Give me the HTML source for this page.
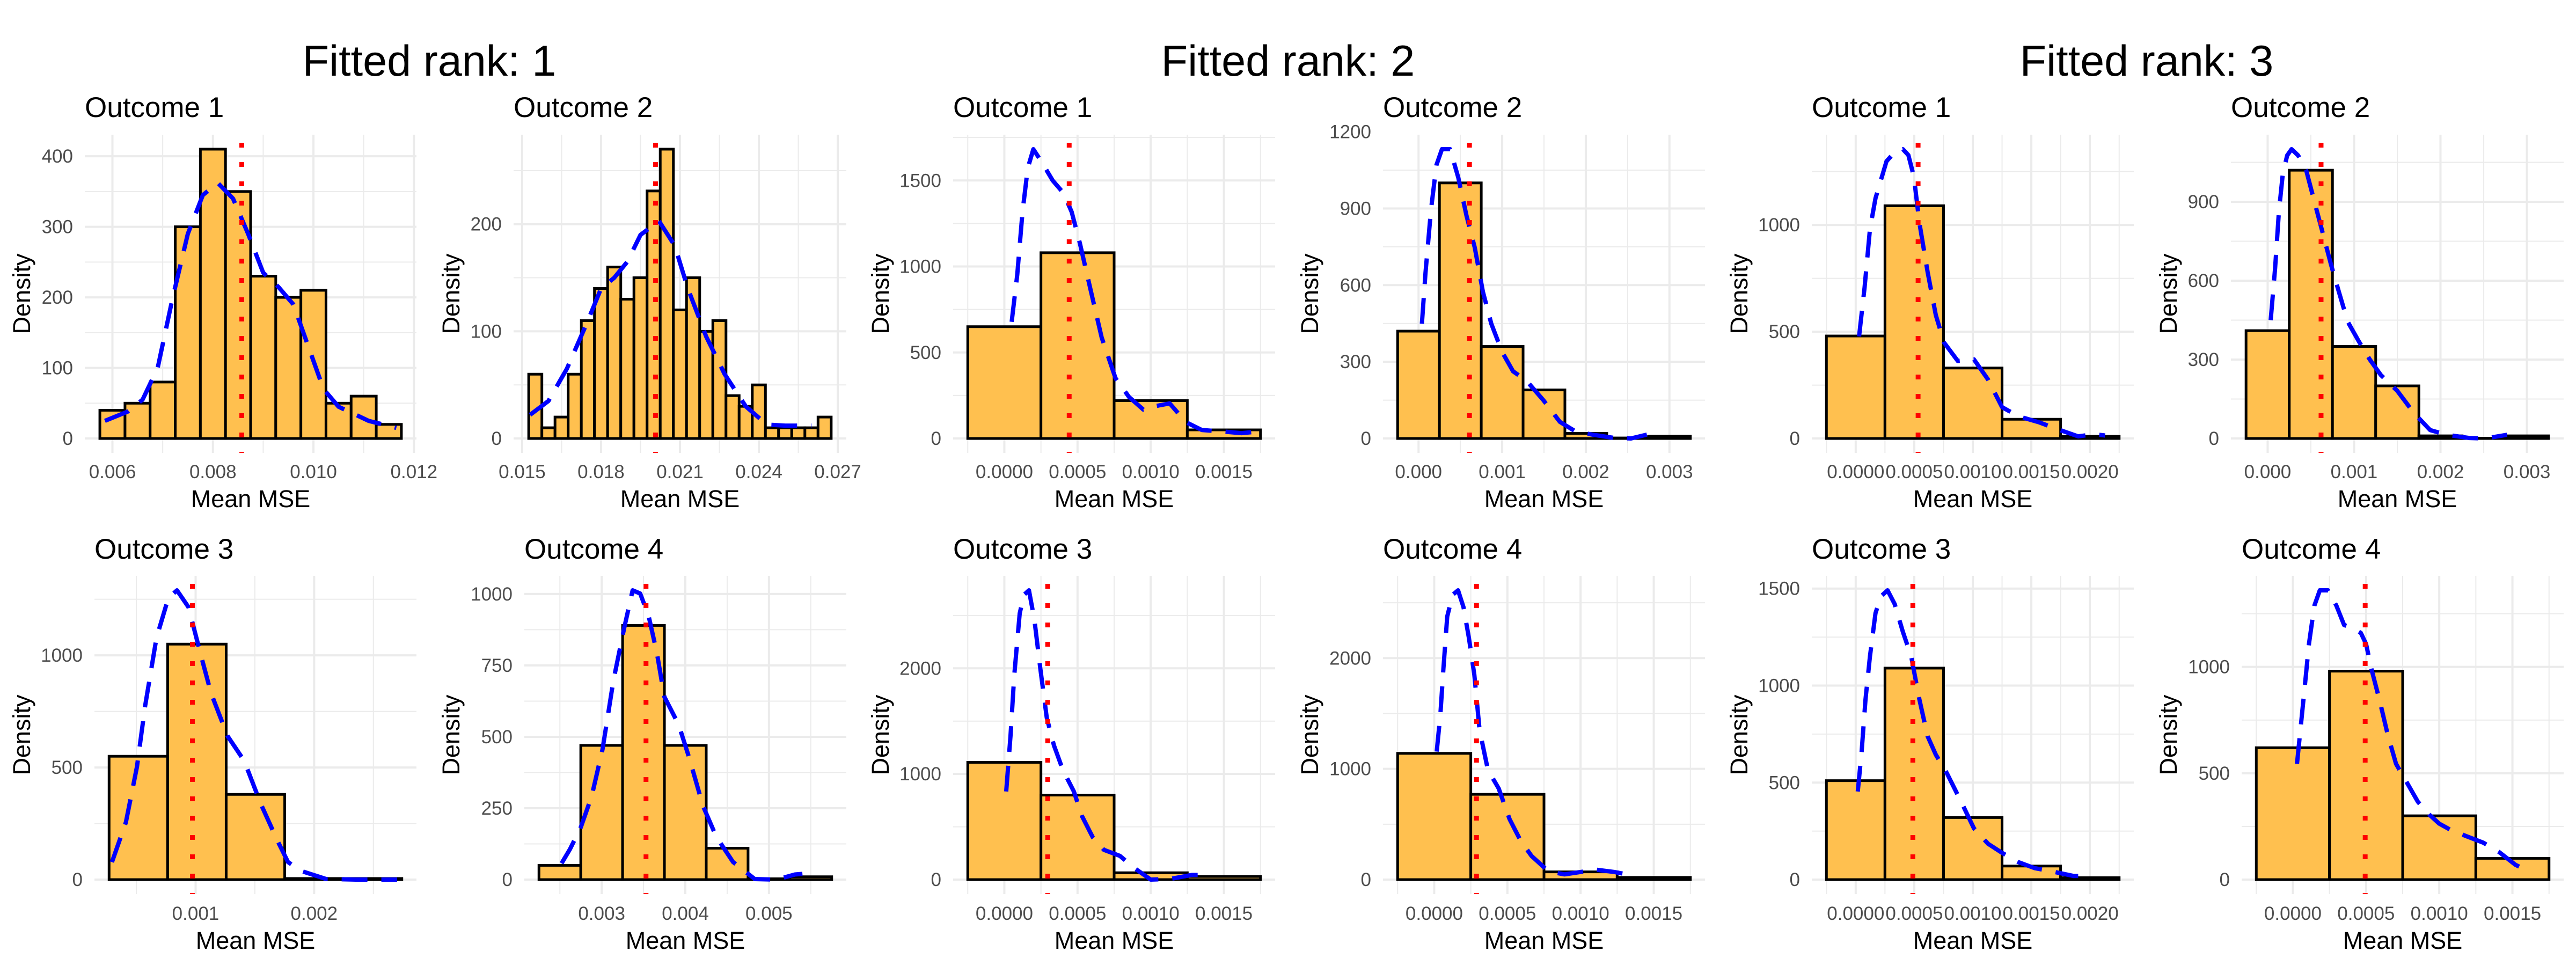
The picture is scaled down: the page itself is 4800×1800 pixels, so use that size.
<!DOCTYPE html>
<html><head><meta charset="utf-8">
<style>
html,body{margin:0;padding:0;background:#fff;}
svg{display:block;font-family:"Liberation Sans",Arial,sans-serif;}
</style></head>
<body>
<svg id="chart" width="4800" height="1800" viewBox="0 0 4800 1800" xmlns="http://www.w3.org/2000/svg">
<rect x="0" y="0" width="4800" height="1800" fill="#ffffff"/>
<text x="800" y="141" font-size="81" text-anchor="middle" fill="#000">Fitted rank: 1</text>
<text x="2400" y="141" font-size="81" text-anchor="middle" fill="#000">Fitted rank: 2</text>
<text x="4000" y="141" font-size="81" text-anchor="middle" fill="#000">Fitted rank: 3</text>
</svg>
<script>
// ---------- DATA ----------
const r1o1BinStart = 0.00575, r1o1BinWidth = 0.0005;
const r1o1Heights = [40,50,80,300,410,350,230,200,210,50,60,20];
const r1o1DensX = [0.00585,0.0063,0.0066,0.0069,0.0072,0.0075,0.0078,0.0081,0.0084,0.0087,0.009,0.0093,0.0096,0.0099,0.0102,0.0105,0.0108,0.0111,0.01165];
const r1o1DensY = [25,38,55,100,200,290,345,362,340,290,235,215,190,130,70,45,35,25,15];
const r1o1Vline = 0.008574;
const r1o1XTicks = [0.006,0.008,0.010,0.012];
const r1o1XLabels = ["0.006","0.008","0.010","0.012"];
const r1o1YTicks = [0,100,200,300,400];

const r1o2BinStart = 0.01525, r1o2BinWidth = 0.0005;
const r1o2Heights = [60,10,20,60,110,140,160,130,150,231,270,120,150,100,110,40,30,50,10,10,10,10,20];
const r1o2DensX = [0.0153,0.016,0.0167,0.0175,0.018,0.0185,0.019,0.0195,0.0202,0.0208,0.0213,0.022,0.0227,0.0235,0.0243,0.025,0.026];
const r1o2DensY = [22,35,65,110,140,150,165,190,203,180,140,95,60,30,13,12,12];
const r1o2Vline = 0.02007;
const r1o2XTicks = [0.015,0.018,0.021,0.024,0.027];
const r1o2XLabels = ["0.015","0.018","0.021","0.024","0.027"];
const r1o2YTicks = [0,100,200];

const r1o3BinStart = 0.00027, r1o3BinWidth = 0.000494;
const r1o3Heights = [550,1050,380,5,5];
const r1o3DensX = [0.000294,0.000412,0.000505,0.000575,0.00067,0.00077,0.000843,0.00094,0.00104,0.00113,0.00127,0.00141,0.00155,0.00169,0.00178,0.0019,0.0021,0.00235,0.0027];
const r1o3DensY = [78,256,503,777,1078,1256,1290,1215,1010,832,640,530,338,174,78,37,3,0,0];
const r1o3Vline = 0.000973;
const r1o3XTicks = [0.001,0.002];
const r1o3XLabels = ["0.001","0.002"];
const r1o3YTicks = [0,500,1000];

const r1o4BinStart = 0.00225, r1o4BinWidth = 0.0005;
const r1o4Heights = [50,470,890,470,110,3,10];
const r1o4DensX = [0.00252,0.00262,0.00275,0.00288,0.00301,0.00314,0.00327,0.00337,0.00346,0.00356,0.00366,0.00375,0.00392,0.00405,0.00421,0.00437,0.00457,0.00483,0.00509,0.00531,0.0054];
const r1o4DensY = [57,106,183,292,456,697,882,1013,1002,925,794,640,543,423,259,150,62,2,0,18,20];
const r1o4Vline = 0.00353;
const r1o4XTicks = [0.003,0.004,0.005];
const r1o4XLabels = ["0.003","0.004","0.005"];
const r1o4YTicks = [0,250,500,750,1000];

const r2o1BinStart = -0.00025, r2o1BinWidth = 0.0005;
const r2o1Heights = [650,1080,220,50];
const r2o1DensX = [0.00005,0.000088,0.000124,0.00016,0.000198,0.000254,0.00033,0.000404,0.00046,0.000516,0.00059,0.000665,0.00076,0.000852,0.00095,0.00102,0.00113,0.00124,0.00135,0.0015,0.00162,0.00173];
const r2o1DensY = [678,952,1317,1572,1682,1609,1500,1427,1317,1135,861,587,350,241,168,186,204,95,49,40,31,40];
const r2o1Vline = 0.000443;
const r2o1XTicks = [0,0.0005,0.001,0.0015];
const r2o1XLabels = ["0.0000","0.0005","0.0010","0.0015"];
const r2o1YTicks = [0,500,1000,1500];

const r2o2BinStart = -0.00025, r2o2BinWidth = 0.0005;
const r2o2Heights = [420,1000,360,190,20,2,9];
const r2o2DensX = [0.00004,0.000083,0.000149,0.000214,0.00028,0.000378,0.000476,0.000574,0.000672,0.00077,0.00087,0.001,0.00113,0.00129,0.00149,0.00169,0.00188,0.00208,0.00234,0.00254,0.00273];
const r2o2DensY = [449,648,896,1070,1132,1132,1020,871,747,574,449,338,263,226,151,65,27,15,2,0,15];
const r2o2Vline = 0.000609;
const r2o2XTicks = [0,0.001,0.002,0.003];
const r2o2XLabels = ["0.000","0.001","0.002","0.003"];
const r2o2YTicks = [0,300,600,900,1200];

const r2o3BinStart = -0.00025, r2o3BinWidth = 0.0005;
const r2o3Heights = [1110,800,65,30];
const r2o3DensX = [0.0000128,0.000042,0.000068,0.000105,0.000134,0.000168,0.000205,0.000246,0.00029,0.000339,0.0004,0.000475,0.00053,0.000605,0.00068,0.00079,0.00089,0.001,0.00113,0.00128,0.00137];
const r2o3DensY = [834,1358,1939,2520,2695,2738,2462,1997,1532,1270,1038,834,602,398,282,224,108,0,6,44,44];
const r2o3Vline = 0.000296;
const r2o3XTicks = [0,0.0005,0.001,0.0015];
const r2o3XLabels = ["0.0000","0.0005","0.0010","0.0015"];
const r2o3YTicks = [0,1000,2000];

const r2o4BinStart = -0.00025, r2o4BinWidth = 0.0005;
const r2o4Heights = [1140,770,70,20];
const r2o4DensX = [0.000017,0.000042,0.000063,0.000089,0.000126,0.000163,0.0002,0.000237,0.000274,0.00031,0.000367,0.00044,0.000515,0.00059,0.000665,0.00078,0.00089,0.001,0.00111,0.00123,0.00134];
const r2o4DensY = [1156,1489,1905,2376,2571,2612,2460,2182,1850,1350,990,824,546,352,214,75,47,69,89,69,42];
const r2o4Vline = 0.000289;
const r2o4XTicks = [0,0.0005,0.001,0.0015];
const r2o4XLabels = ["0.0000","0.0005","0.0010","0.0015"];
const r2o4YTicks = [0,1000,2000];

const r3o1BinStart = -0.00025, r3o1BinWidth = 0.0005;
const r3o1Heights = [480,1090,330,90,10];
const r3o1DensX = [0.000029,0.000076,0.000122,0.000169,0.000216,0.000263,0.000333,0.000403,0.00045,0.000497,0.000544,0.000614,0.000684,0.000755,0.000872,0.00101,0.00113,0.00125,0.00139,0.00157,0.00171,0.0019,0.00204,0.00213];
const r3o1DensY = [478,708,981,1125,1211,1298,1341,1355,1327,1226,1010,780,578,449,363,370,276,147,104,75,46,10,20,14];
const r3o1Vline = 0.000533;
const r3o1XTicks = [0,0.0005,0.001,0.0015,0.002];
const r3o1XLabels = ["0.0000","0.0005","0.0010","0.0015","0.0020"];
const r3o1YTicks = [0,500,1000];

const r3o2BinStart = -0.00025, r3o2BinWidth = 0.0005;
const r3o2Heights = [410,1020,350,200,10,1,10];
const r3o2DensX = [0.000035,0.000086,0.00013,0.000175,0.000226,0.000277,0.000353,0.000448,0.000544,0.00064,0.000735,0.00083,0.000926,0.00105,0.00118,0.00131,0.0015,0.00169,0.00188,0.00207,0.00233,0.00252,0.00277];
const r3o2DensY = [450,647,862,1005,1076,1100,1076,1017,897,778,659,551,444,372,301,241,181,98,32,14,2,0,14];
const r3o2Vline = 0.000618;
const r3o2XTicks = [0,0.001,0.002,0.003];
const r3o2XLabels = ["0.000","0.001","0.002","0.003"];
const r3o2YTicks = [0,300,600,900];

const r3o3BinStart = -0.00025, r3o3BinWidth = 0.0005;
const r3o3Heights = [510,1090,320,70,10];
const r3o3DensX = [0.000018,0.000051,0.000084,0.000122,0.000169,0.000216,0.000272,0.000333,0.000403,0.000474,0.000544,0.000614,0.000684,0.000778,0.000896,0.00101,0.00113,0.00125,0.00139,0.00153,0.00167,0.00186,0.0019];
const r3o3DensY = [454,660,929,1151,1373,1460,1491,1420,1277,1151,929,739,644,549,407,264,185,138,90,59,43,19,19];
const r3o3Vline = 0.000488;
const r3o3XTicks = [0,0.0005,0.001,0.0015,0.002];
const r3o3XLabels = ["0.0000","0.0005","0.0010","0.0015","0.0020"];
const r3o3YTicks = [0,500,1000,1500];

const r3o4BinStart = -0.00025, r3o4BinWidth = 0.0005;
const r3o4Heights = [620,980,300,100];
const r3o4DensX = [0.000028,0.000054,0.00008,0.00011,0.000147,0.000184,0.00024,0.000297,0.00035,0.000408,0.000464,0.0005,0.000537,0.000593,0.000649,0.000705,0.00078,0.000854,0.00093,0.001,0.00108,0.00119,0.0013,0.00141,0.00152,0.00163];
const r3o4DensY = [544,722,900,1110,1288,1360,1360,1288,1197,1182,1160,1108,989,841,678,544,455,366,307,263,233,203,174,129,70,33];
const r3o4Vline = 0.000494;
const r3o4XTicks = [0,0.0005,0.001,0.0015];
const r3o4XLabels = ["0.0000","0.0005","0.0010","0.0015"];
const r3o4YTicks = [0,500,1000];

// ---------- LAYOUT ----------
const NS = "http://www.w3.org/2000/svg";
const svg = document.getElementById("chart");
function mk(tag, attrs, parent){
  const e = document.createElementNS(NS, tag);
  for (const k in attrs) e.setAttribute(k, attrs[k]);
  (parent||svg).appendChild(e);
  return e;
}
const panels = [
  {id:"r1o1",t:"Outcome 1",L:158,R:776,row:0,bs:r1o1BinStart,bw:r1o1BinWidth,h:r1o1Heights,dx:r1o1DensX,dy:r1o1DensY,v:r1o1Vline,xt:r1o1XTicks,xl:r1o1XLabels,yt:r1o1YTicks},
  {id:"r1o2",t:"Outcome 2",L:957,R:1577,row:0,bs:r1o2BinStart,bw:r1o2BinWidth,h:r1o2Heights,dx:r1o2DensX,dy:r1o2DensY,v:r1o2Vline,xt:r1o2XTicks,xl:r1o2XLabels,yt:r1o2YTicks},
  {id:"r1o3",t:"Outcome 3",L:176,R:776,row:1,bs:r1o3BinStart,bw:r1o3BinWidth,h:r1o3Heights,dx:r1o3DensX,dy:r1o3DensY,v:r1o3Vline,xt:r1o3XTicks,xl:r1o3XLabels,yt:r1o3YTicks},
  {id:"r1o4",t:"Outcome 4",L:977,R:1577,row:1,bs:r1o4BinStart,bw:r1o4BinWidth,h:r1o4Heights,dx:r1o4DensX,dy:r1o4DensY,v:r1o4Vline,xt:r1o4XTicks,xl:r1o4XLabels,yt:r1o4YTicks},
  {id:"r2o1",t:"Outcome 1",L:1776,R:2376,row:0,bs:r2o1BinStart,bw:r2o1BinWidth,h:r2o1Heights,dx:r2o1DensX,dy:r2o1DensY,v:r2o1Vline,xt:r2o1XTicks,xl:r2o1XLabels,yt:r2o1YTicks},
  {id:"r2o2",t:"Outcome 2",L:2577,R:3177,row:0,bs:r2o2BinStart,bw:r2o2BinWidth,h:r2o2Heights,dx:r2o2DensX,dy:r2o2DensY,v:r2o2Vline,xt:r2o2XTicks,xl:r2o2XLabels,yt:r2o2YTicks},
  {id:"r2o3",t:"Outcome 3",L:1776,R:2376,row:1,bs:r2o3BinStart,bw:r2o3BinWidth,h:r2o3Heights,dx:r2o3DensX,dy:r2o3DensY,v:r2o3Vline,xt:r2o3XTicks,xl:r2o3XLabels,yt:r2o3YTicks},
  {id:"r2o4",t:"Outcome 4",L:2577,R:3177,row:1,bs:r2o4BinStart,bw:r2o4BinWidth,h:r2o4Heights,dx:r2o4DensX,dy:r2o4DensY,v:r2o4Vline,xt:r2o4XTicks,xl:r2o4XLabels,yt:r2o4YTicks},
  {id:"r3o1",t:"Outcome 1",L:3376,R:3976,row:0,bs:r3o1BinStart,bw:r3o1BinWidth,h:r3o1Heights,dx:r3o1DensX,dy:r3o1DensY,v:r3o1Vline,xt:r3o1XTicks,xl:r3o1XLabels,yt:r3o1YTicks},
  {id:"r3o2",t:"Outcome 2",L:4157,R:4777,row:0,bs:r3o2BinStart,bw:r3o2BinWidth,h:r3o2Heights,dx:r3o2DensX,dy:r3o2DensY,v:r3o2Vline,xt:r3o2XTicks,xl:r3o2XLabels,yt:r3o2YTicks},
  {id:"r3o3",t:"Outcome 3",L:3376,R:3976,row:1,bs:r3o3BinStart,bw:r3o3BinWidth,h:r3o3Heights,dx:r3o3DensX,dy:r3o3DensY,v:r3o3Vline,xt:r3o3XTicks,xl:r3o3XLabels,yt:r3o3YTicks},
  {id:"r3o4",t:"Outcome 4",L:4177,R:4777,row:1,bs:r3o4BinStart,bw:r3o4BinWidth,h:r3o4Heights,dx:r3o4DensX,dy:r3o4DensY,v:r3o4Vline,xt:r3o4XTicks,xl:r3o4XLabels,yt:r3o4YTicks}
];
const rowTop = [251,1073], rowBot = [844,1666];
const rowTitleY = [218,1041], rowTickY = [891,1714], rowAxisY = [945,1768];

panels.forEach(function(p){
  const T = rowTop[p.row], B = rowBot[p.row];
  const n = p.h.length;
  const x0 = p.bs, x1 = p.bs + n*p.bw;
  const xmin = x0 - 0.05*(x1-x0), xmax = x1 + 0.05*(x1-x0);
  const ymaxData = Math.max(Math.max.apply(null,p.h), Math.max.apply(null,p.dy));
  const ymin = -0.05*ymaxData, ymax = ymaxData*1.05;
  const sx = function(v){ return p.L + (v-xmin)/(xmax-xmin)*(p.R-p.L); };
  const sy = function(v){ return B - (v-ymin)/(ymax-ymin)*(B-T); };

  const g = mk("g",{});
  
  

  const cp = mk("clipPath",{id:"clip-"+p.id}, g);
  mk("rect",{x:p.L,y:T,width:p.R-p.L,height:B-T}, cp);

  // gridlines
  const grid = mk("g",{}, g);
  
  
  const ystep = p.yt[1]-p.yt[0];
  for (let v = p.yt[0]-ystep/2; v <= ymax; v += ystep/2){
    if (v < ymin) continue;
    const major = p.yt.some(function(t){return Math.abs(t-v)<ystep*1e-3;});
    mk("line",{x1:p.L,x2:p.R,y1:sy(v),y2:sy(v),stroke:"#EBEBEB","stroke-width":major?4:2}, grid);
  }
  const xstep = p.xt[1]-p.xt[0];
  for (let v = p.xt[0]-xstep*2; v <= xmax+1e-12; v += xstep/2){
    if (v < xmin-1e-12) continue;
    const major = p.xt.some(function(t){return Math.abs(t-v)<xstep*1e-3;});
    mk("line",{x1:sx(v),x2:sx(v),y1:T,y2:B,stroke:"#EBEBEB","stroke-width":major?4:2}, grid);
  }

  const plot = mk("g",{"clip-path":"url(#clip-"+p.id+")"}, g);
  // bars
  p.h.forEach(function(hv,i){
    const a = p.bs + i*p.bw, b = a + p.bw;
    const r = mk("rect",{x:sx(a),y:sy(hv),width:sx(b)-sx(a),height:sy(0)-sy(hv),fill:"#FFC04F","fill-opacity":"1",stroke:"#000","stroke-width":5}, plot);
    
    
  });
  // density
  let d = "";
  p.dx.forEach(function(xv,i){ d += (i?"L":"M") + sx(xv).toFixed(1) + "," + sy(p.dy[i]).toFixed(1); });
  const dl = mk("path",{d:d,fill:"none",stroke:"#0000FF","stroke-width":8,"stroke-dasharray":"48 26","stroke-linejoin":"round"}, plot);
  
  
  // vline
  const vl = mk("line",{x1:sx(p.v),x2:sx(p.v),y1:T+15,y2:B,stroke:"#FF0000","stroke-width":9,"stroke-dasharray":"9 27"}, plot);
  
  

  // y ticks
  p.yt.forEach(function(v){
    const t = mk("text",{x:p.L-22,y:sy(v)+12,"font-size":35,"text-anchor":"end",fill:"#4D4D4D"}, g);
    t.textContent = String(v);
    
    
  });
  // x ticks
  p.xt.forEach(function(v,i){
    const t = mk("text",{x:sx(v),y:rowTickY[p.row],"font-size":35,"text-anchor":"middle",fill:"#4D4D4D"}, g);
    t.textContent = p.xl[i];
    
    
  });
  // titles
  const colBase = Math.floor(p.L/800)*800;
  const st = mk("text",{x:p.L,y:rowTitleY[p.row],"font-size":53,fill:"#000"}, g);
  st.textContent = p.t;
  
  
  const xa = mk("text",{x:(p.L+p.R)/2,y:rowAxisY[p.row],"font-size":45,"text-anchor":"middle",fill:"#000"}, g);
  xa.textContent = "Mean MSE";
  
  
  const yx = colBase + 56, yy = (T+B)/2;
  const ya = mk("text",{x:yx,y:yy,"font-size":45,"text-anchor":"middle",fill:"#000",transform:"rotate(-90 "+yx+" "+yy+")"}, g);
  ya.textContent = "Density";
  
  
});
</script>
</body></html>
